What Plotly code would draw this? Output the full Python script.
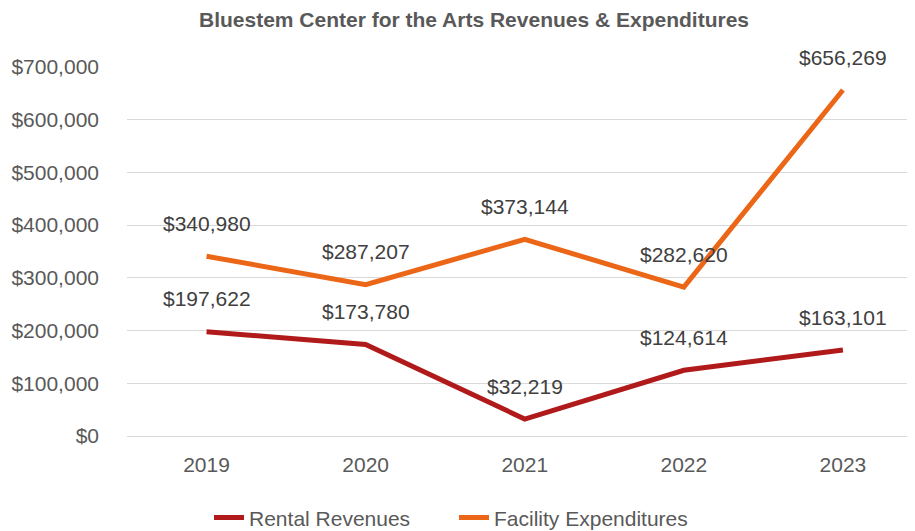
import plotly.graph_objects as go

years = ["2019", "2020", "2021", "2022", "2023"]
rental = [197622, 173780, 32219, 124614, 163101]
facility = [340980, 287207, 373144, 282620, 656269]
tick_vals = [0, 100000, 200000, 300000, 400000, 500000, 600000, 700000]
tick_text = ["$0", "$100,000", "$200,000", "$300,000", "$400,000", "$500,000", "$600,000", "$700,000"]

RED = "#B11A1A"
ORANGE = "#EB6616"
FONT = "Liberation Sans"
TXT = "#595959"
H = 545

fig = go.Figure()
fig.add_trace(go.Scatter(x=years, y=rental, mode="lines", name="Rental Revenues",
                         line=dict(color=RED, width=5)))
fig.add_trace(go.Scatter(x=years, y=facility, mode="lines", name="Facility Expenditures",
                         line=dict(color=ORANGE, width=5)))

for series in (rental, facility):
    for i, v in enumerate(series):
        fig.add_annotation(x=i, y=v, xref="x", yref="y", text=f"${v:,}", showarrow=False,
                           yshift=33, font=dict(family=FONT, size=21, color="#404040"))

fig.update_layout(
    width=907, height=H,
    margin=dict(l=119, r=0, t=59, b=H - 428),
    paper_bgcolor="white", plot_bgcolor="white",
    title=dict(text="<b>Bluestem Center for the Arts Revenues &amp; Expenditures</b>",
               x=466 / 907, xanchor="center", y=1 - 12 / H, yanchor="middle",
               xref="container", yref="container",
               font=dict(family=FONT, size=21, color=TXT)),
    font=dict(family=FONT, color=TXT),
    legend=dict(orientation="h", x=0.415, xanchor="center", y=-0.222, yanchor="middle",
                entrywidth=200,
                font=dict(family=FONT, size=21, color=TXT)),
    showlegend=True,
)
fig.update_xaxes(type="category", range=[-0.5, 4.453], showgrid=False, showline=False,
                 ticks="", ticklabelstandoff=14, tickfont=dict(family=FONT, size=21, color=TXT))
fig.update_yaxes(range=[0, 700000], tickvals=tick_vals, ticktext=tick_text,
                 showgrid=True, gridcolor="#D9D9D9", gridwidth=1,
                 zeroline=True, zerolinecolor="#D9D9D9", zerolinewidth=1,
                 showline=False, ticks="", ticklabelstandoff=27,
                 tickfont=dict(family=FONT, size=21, color=TXT))

fig.write_html("out.html")
